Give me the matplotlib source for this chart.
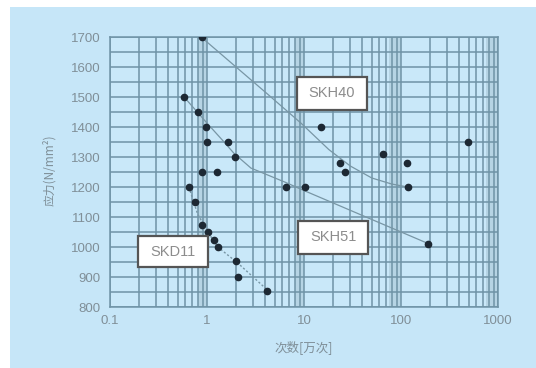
import matplotlib
matplotlib.use("Agg")
import matplotlib.pyplot as plt
from matplotlib.patches import Rectangle
from matplotlib.ticker import FixedLocator, LogLocator, NullFormatter

plt.rcParams['font.family'] = ['Liberation Sans', 'Noto Sans CJK SC', 'DejaVu Sans']

# ---- data ----
skd11_x = [0.65, 0.76, 0.89, 1.03, 1.17, 1.31, 1.98, 2.07, 4.15]
skd11_y = [1200, 1150, 1075, 1050, 1025, 1000, 955, 900, 855]

skh51_x = [0.58, 0.81, 0.97, 1.0, 1.63, 1.94, 0.89, 1.27, 6.5, 10.2, 189]
skh51_y = [1500, 1450, 1400, 1350, 1350, 1300, 1250, 1250, 1200, 1200, 1010]

skh40_x = [0.88, 14.9, 23.7, 26.5, 64.8, 114, 117, 495]
skh40_y = [1700, 1400, 1280, 1250, 1310, 1280, 1200, 1350]

# trend curves
skd11_fit_x = [0.65, 0.8, 1.02, 1.29, 2.07, 4.15]
skd11_fit_y = [1200, 1110, 1050, 1000, 947, 858]
skh51_fit_x = [0.58, 1.0, 1.5, 1.9, 2.84, 6.5, 10.2, 189]
skh51_fit_y = [1500, 1413, 1350, 1312, 1263, 1215, 1187, 1012]
skh40_fit_x = [0.87, 4.2, 9.3, 18, 30, 50, 80, 117]
skh40_fit_y = [1700, 1510, 1413, 1325, 1270, 1230, 1210, 1200]

series_names = ["SKH40", "SKH51", "SKD11"]
y_ticks = [800, 900, 1000, 1100, 1200, 1300, 1400, 1500, 1600, 1700]
x_ticks = [0.1, 1, 10, 100, 1000]
x_tick_labels = ["0.1", "1", "10", "100", "1000"]
y_label = "应力(N/mm²)"
x_label = "次数[万次]"

# ---- figure ----
W, H = 536, 368
fig = plt.figure(figsize=(W / 100, H / 100), dpi=100)
fig.patch.set_facecolor("white")
panel = Rectangle((10 / W, 0), 1 - 10 / W, 1 - 7 / H, transform=fig.transFigure,
                  facecolor="#c6e6f8", edgecolor="none", zorder=-5)
fig.patches.append(panel)

ax = fig.add_axes([110 / W, 1 - 307 / H, (498 - 110) / W, (307 - 37) / H])
ax.set_zorder(2)
ax.set_facecolor("#c9e8f9")
ax.set_xscale("log")
ax.set_xlim(0.1, 1000)
ax.set_ylim(800, 1700)

grid_c = "#6f93a6"
for lo, hi in [(0.8, 1.0), (8, 10), (75, 100), (750, 1000)]:
    ax.axvspan(lo, hi, color="#9fbccb", alpha=0.45, lw=0, zorder=0.5)

ax.xaxis.set_major_locator(FixedLocator(x_ticks))
ax.xaxis.set_minor_locator(LogLocator(base=10, subs=range(2, 10), numticks=20))
ax.xaxis.set_minor_formatter(NullFormatter())
ax.set_xticklabels(x_tick_labels)
ax.set_yticks(y_ticks)
ax.set_yticks(range(850, 1700, 100), minor=True)
ax.grid(True, which="both", color=grid_c, lw=1.1, zorder=1)
ax.set_axisbelow(True)
for s in ax.spines.values():
    s.set_color(grid_c)
    s.set_linewidth(1.1)
ax.tick_params(which="both", length=0, colors="#808f98", labelsize=9.5)
ax.tick_params(axis="x", pad=6)
ax.tick_params(axis="y", pad=7)

line_c = "#7896a5"
ax.plot(skh40_fit_x, skh40_fit_y, color=line_c, lw=0.9, zorder=2)
ax.plot(skh51_fit_x, skh51_fit_y, color=line_c, lw=0.9, zorder=2)
ax.plot(skd11_fit_x, skd11_fit_y, color=line_c, lw=1.0, ls=(0, (1.5, 1.5)), zorder=2)

mk = dict(marker="o", ls="none", ms=4.5, color="#1d2833", zorder=3)
ax.plot(skh40_x, skh40_y, **mk)
ax.plot(skh51_x, skh51_y, **mk)
ax.plot(skd11_x, skd11_y, **mk)

# label boxes (axes-fraction positions)
boxes = [(0.482, 0.730, 0.180, 0.122),
         (0.485, 0.196, 0.180, 0.123),
         (0.072, 0.148, 0.181, 0.115)]
for name, (bx, by, bw, bh) in zip(series_names, boxes):
    ax.add_patch(Rectangle((bx, by), bw, bh, transform=ax.transAxes,
                           facecolor="white", edgecolor="#555555", lw=1.6, zorder=4))
    ax.text(bx + bw / 2, by + bh / 2, name, transform=ax.transAxes, ha="center",
            va="center", fontsize=10.5, color="#8c8c8c", zorder=5)

fig.text(304 / W, 1 - 347 / H, x_label, ha="center", va="center", fontsize=9,
         color="#7f8f98", family=["Noto Sans CJK SC", "DejaVu Sans"])
fig.text(49 / W, 1 - 170 / H, y_label, ha="center", va="center", rotation=90,
         fontsize=8.5, color="#7f8f98", family=["Noto Sans CJK SC", "DejaVu Sans"])

fig.savefig("out.png", dpi=100, facecolor=fig.get_facecolor())
